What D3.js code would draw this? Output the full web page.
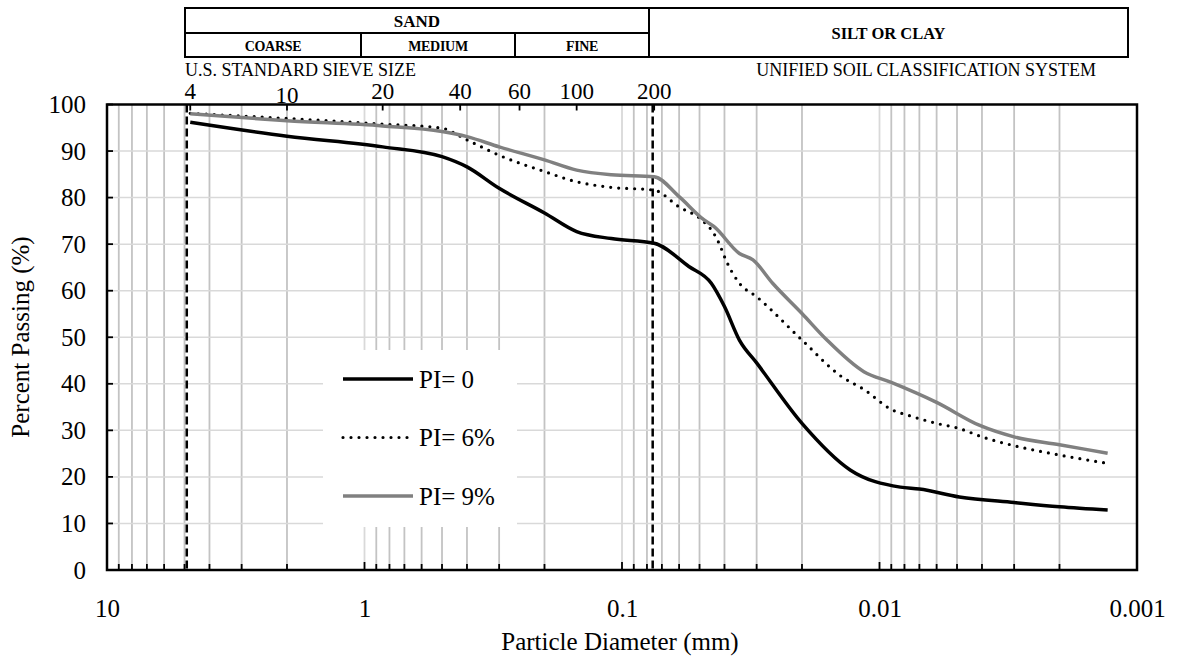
<!DOCTYPE html>
<html>
<head>
<meta charset="utf-8">
<script src="https://cdn.jsdelivr.net/npm/d3@7"></script>
<style>
  body { margin: 0; background: #fff; }
  text { font-family: 'Liberation Serif', 'Times New Roman', serif; fill: #000; }
</style>
</head>
<body>
<script>
// grain size distribution
const sizePI0 = [4.75, 2.0, 0.85, 0.5, 0.4, 0.3, 0.2, 0.15, 0.11, 0.075, 0.055, 0.045, 0.04, 0.035, 0.03, 0.02, 0.013, 0.0083, 0.007, 0.0049, 0.003, 0.002, 0.0013];
const passPI0 = [96.2, 93.2, 90.9, 88.8, 86.6, 82.0, 76.7, 72.7, 71.2, 70.2, 65.2, 61.6, 56.6, 49.4, 44.5, 31.5, 21.5, 17.8, 17.4, 15.7, 14.5, 13.6, 12.9];

const sizePI6 = [4.75, 2.0, 0.85, 0.5, 0.4, 0.3, 0.2, 0.15, 0.11, 0.075, 0.06, 0.049, 0.044, 0.042, 0.0395, 0.035, 0.03, 0.02, 0.014, 0.0115, 0.009, 0.0076, 0.006, 0.0049, 0.004, 0.003, 0.002, 0.0013];
const passPI6 = [98.1, 97.0, 95.8, 94.9, 92.4, 89.1, 85.6, 83.4, 82.2, 81.6, 78.0, 75.2, 72.3, 70.2, 66.6, 61.6, 58.7, 49.4, 41.5, 38.8, 34.5, 33.1, 31.5, 30.4, 28.6, 26.7, 24.7, 22.9];

const sizePI9 = [4.75, 2.0, 0.85, 0.5, 0.4, 0.3, 0.2, 0.15, 0.11, 0.075, 0.06, 0.048, 0.044, 0.035, 0.031, 0.026, 0.02, 0.016, 0.0115, 0.009, 0.006, 0.0041, 0.003, 0.002, 0.0013];
const passPI9 = [98.0, 96.5, 95.4, 94.2, 93.1, 90.9, 88.1, 85.9, 84.9, 84.5, 80.2, 75.2, 73.8, 68.0, 66.6, 61.6, 55.1, 49.4, 42.6, 40.3, 36.0, 31.1, 28.6, 26.9, 25.1];

const seriesNames = ['PI= 0', 'PI= 6%', 'PI= 9%'];

const sieveLabels = ['4', '10', '20', '40', '60', '100', '200'];
const sieveSizes = [4.75, 2.0, 0.85, 0.425, 0.25, 0.15, 0.075];
const boundarySizes = [4.9, 0.076];

const xTicks = [10, 1, 0.1, 0.01, 0.001];
const yTicks = [0, 10, 20, 30, 40, 50, 60, 70, 80, 90, 100];

const sandParts = ['COARSE', 'MEDIUM', 'FINE'];

document.addEventListener('DOMContentLoaded', () => {
  const width = 1177;
  const height = 660;
  const left = 107, right = 1137, top = 104.5, bottom = 570;

  const svg = d3.select('body')
    .append('svg')
      .attr('width', width)
      .attr('height', height);

  const x = d3.scaleLog().domain([10, 0.001]).range([left, right]);
  const y = d3.scaleLinear().domain([0, 100]).range([bottom, top]);

  // vertical grid, decades lighter than the minor lines
  const gridX = [];
  for (let e = 0; e >= -3; e--) {
    for (let k = 1; k <= 9; k++) {
      const v = k * Math.pow(10, e);
      if (v < 10 && v > 0.001) gridX.push({ v, major: k === 1 });
    }
  }
  svg.append('g')
    .selectAll('line')
    .data(gridX)
    .enter()
    .append('line')
      .attr('x1', d => x(d.v))
      .attr('x2', d => x(d.v))
      .attr('y1', top)
      .attr('y2', bottom)
      .attr('stroke', d => d.major ? '#d9d9d9' : '#c3c3c3')
      .attr('stroke-width', 1.8);

  svg.append('g')
    .selectAll('line')
    .data(yTicks.slice(1, -1))
    .enter()
    .append('line')
      .attr('x1', left)
      .attr('x2', right)
      .attr('y1', d => y(d))
      .attr('y2', d => y(d))
      .attr('stroke', '#d9d9d9')
      .attr('stroke-width', 1.5);

  // legend background sits over the grid
  svg.append('rect')
    .attr('x', 323)
    .attr('y', 350)
    .attr('width', 194)
    .attr('height', 177)
    .attr('fill', '#fff');

  // #4 and #200 sieve boundaries
  svg.append('g')
    .selectAll('line')
    .data(boundarySizes)
    .enter()
    .append('line')
      .attr('x1', d => x(d))
      .attr('x2', d => x(d))
      .attr('y1', top)
      .attr('y2', bottom)
      .attr('stroke', '#000')
      .attr('stroke-width', 2.5)
      .attr('stroke-dasharray', '8,4');

  const series = [
    { name: seriesNames[0], sizes: sizePI0, pass: passPI0, color: '#000', width: 3.5, dash: null, cap: 'butt' },
    { name: seriesNames[1], sizes: sizePI6, pass: passPI6, color: '#000', width: 3.2, dash: '0,8', cap: 'round' },
    { name: seriesNames[2], sizes: sizePI9, pass: passPI9, color: '#808080', width: 3.5, dash: null, cap: 'butt' }
  ];

  const line = d3.line()
    .x(d => x(d[0]))
    .y(d => y(d[1]))
    .curve(d3.curveMonotoneX);

  svg.append('g')
    .selectAll('path')
    .data(series)
    .enter()
    .append('path')
      .attr('d', s => line(s.sizes.map((v, i) => [v, s.pass[i]])))
      .attr('fill', 'none')
      .attr('stroke', s => s.color)
      .attr('stroke-width', s => s.width)
      .attr('stroke-dasharray', s => s.dash)
      .attr('stroke-linecap', s => s.cap)
      .attr('stroke-linejoin', 'round');

  // axes
  const xAxis = svg.append('g')
    .attr('transform', `translate(0,${bottom})`)
    .call(d3.axisBottom(x).tickValues(xTicks).tickFormat(d => String(d)).tickSize(0).tickPadding(29));
  xAxis.select('.domain').remove();
  xAxis.selectAll('text').attr('font-size', 25).attr('font-family', null);

  const yAxis = svg.append('g')
    .attr('transform', `translate(${left},0)`)
    .call(d3.axisLeft(y).tickValues(yTicks).tickSize(0).tickPadding(21));
  yAxis.select('.domain').remove();
  yAxis.selectAll('text').attr('font-size', 25).attr('font-family', null);

  // inside tick marks
  svg.append('g')
    .selectAll('line')
    .data(gridX)
    .enter()
    .append('line')
      .attr('x1', d => x(d.v))
      .attr('x2', d => x(d.v))
      .attr('y1', bottom)
      .attr('y2', d => bottom - (d.major ? 8 : 6))
      .attr('stroke', '#000')
      .attr('stroke-width', 1.8);

  svg.append('g')
    .selectAll('line')
    .data(yTicks)
    .enter()
    .append('line')
      .attr('x1', left)
      .attr('x2', left + 6)
      .attr('y1', d => y(d))
      .attr('y2', d => y(d))
      .attr('stroke', '#000')
      .attr('stroke-width', 1.8);

  svg.append('g')
    .selectAll('line')
    .data(sieveSizes)
    .enter()
    .append('line')
      .attr('x1', d => x(d))
      .attr('x2', d => x(d))
      .attr('y1', top)
      .attr('y2', top + 6)
      .attr('stroke', '#000')
      .attr('stroke-width', 1.8);

  svg.append('rect')
    .attr('x', left)
    .attr('y', top)
    .attr('width', right - left)
    .attr('height', bottom - top)
    .attr('fill', 'none')
    .attr('stroke', '#000')
    .attr('stroke-width', 2.5);

  // sieve numbers along the top
  svg.append('g')
    .selectAll('text')
    .data(sieveSizes)
    .enter()
    .append('text')
      .attr('x', d => x(d))
      .attr('y', (d, i) => i === 1 ? 103 : 99)
      .attr('text-anchor', 'middle')
      .attr('font-size', 23)
      .text((d, i) => sieveLabels[i]);

  svg.append('text')
    .attr('x', 185)
    .attr('y', 76)
    .attr('font-size', 18)
    .text('U.S. STANDARD SIEVE SIZE');

  svg.append('text')
    .attr('x', 1096)
    .attr('y', 76)
    .attr('text-anchor', 'end')
    .attr('font-size', 18)
    .text('UNIFIED SOIL CLASSIFICATION SYSTEM');

  // classification table
  const tLeft = 185, tMid = 649, tRight = 1128, tTop = 8, tRow = 33, tBottom = 57;
  const cols = [tLeft, 361, 515, tMid];
  const table = svg.append('g')
    .attr('stroke', '#000')
    .attr('stroke-width', 2);
  table.append('rect')
    .attr('x', tLeft).attr('y', tTop)
    .attr('width', tRight - tLeft).attr('height', tBottom - tTop)
    .attr('fill', 'none');
  table.append('line')
    .attr('x1', tLeft).attr('x2', tMid)
    .attr('y1', tRow).attr('y2', tRow);
  table.append('line')
    .attr('x1', tMid).attr('x2', tMid)
    .attr('y1', tTop).attr('y2', tBottom);
  table.selectAll('line.col')
    .data(cols.slice(1, -1))
    .enter()
    .append('line')
      .attr('class', 'col')
      .attr('x1', d => d).attr('x2', d => d)
      .attr('y1', tRow).attr('y2', tBottom);

  svg.append('text')
    .attr('x', (tLeft + tMid) / 2)
    .attr('y', 27)
    .attr('text-anchor', 'middle')
    .attr('font-size', 17)
    .attr('font-weight', 'bold')
    .text('SAND');

  svg.append('g')
    .selectAll('text')
    .data(sandParts)
    .enter()
    .append('text')
      .attr('x', (d, i) => (cols[i] + cols[i + 1]) / 2)
      .attr('y', 51)
      .attr('text-anchor', 'middle')
      .attr('font-size', 14)
      .attr('font-weight', 'bold')
      .attr('letter-spacing', -0.3)
      .text(d => d);

  svg.append('text')
    .attr('x', (tMid + tRight) / 2)
    .attr('y', 39)
    .attr('text-anchor', 'middle')
    .attr('font-size', 16.5)
    .attr('font-weight', 'bold')
    .text('SILT OR CLAY');

  // legend
  const legend = svg.append('g')
    .selectAll('g')
    .data(series)
    .enter()
    .append('g')
      .attr('transform', (d, i) => `translate(343,${379 + i * 58.5})`);
  legend.append('line')
    .attr('x1', 0)
    .attr('x2', 70)
    .attr('stroke', d => d.color)
    .attr('stroke-width', d => d.width)
    .attr('stroke-dasharray', d => d.dash)
    .attr('stroke-linecap', d => d.cap);
  legend.append('text')
    .attr('x', 76)
    .attr('y', 8.5)
    .attr('font-size', 25)
    .text(d => d.name);

  // axis titles
  svg.append('text')
    .attr('transform', 'translate(29,337) rotate(-90)')
    .attr('text-anchor', 'middle')
    .attr('font-size', 25)
    .text('Percent Passing (%)');

  svg.append('text')
    .attr('x', 620)
    .attr('y', 650)
    .attr('text-anchor', 'middle')
    .attr('font-size', 25)
    .text('Particle Diameter (mm)');
});
</script>
</body>
</html>
